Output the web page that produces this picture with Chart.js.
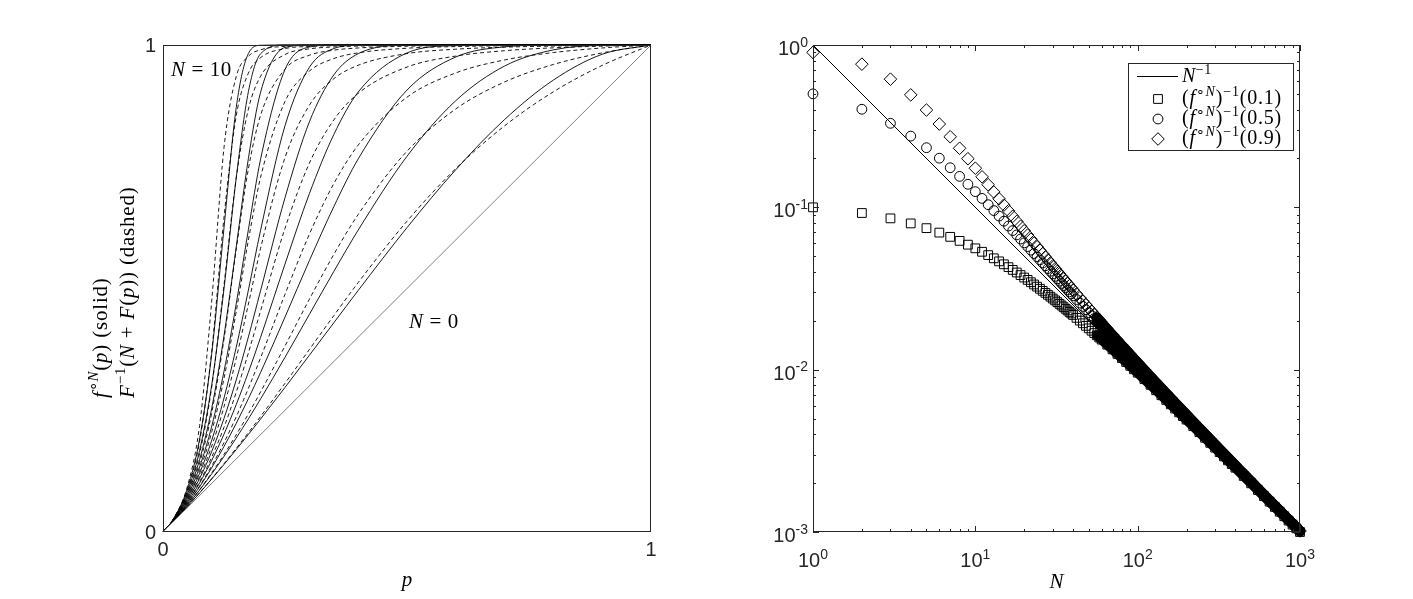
<!DOCTYPE html>
<html>
<head>
<meta charset="utf-8">
<script src="https://cdn.jsdelivr.net/npm/chart.js@4.4.0/dist/chart.umd.min.js"></script>
<style>
  html, body { margin: 0; padding: 0; background: #fff; }
  #wrap { position: relative; width: 1413px; height: 599px; }
  #left { position: absolute; left: 0; top: 0; }
  #right { position: absolute; left: 706px; top: 0; }
</style>
</head>
<body>
<div id="wrap">
  <canvas id="left" width="706" height="599"></canvas>
  <canvas id="right" width="707" height="599"></canvas>
</div>
<script>
// ---- left panel: iterates f^N(p) (solid) and flow approximation (dashed), N = 1..10
const pGrid = [0, 0.02, 0.05, 0.075, 0.1, 0.125, 0.15, 0.175, 0.2, 0.25, 0.3, 0.35, 0.4, 0.5, 0.6, 0.7, 0.8, 0.9, 1];

const solidCurves = [
  [0, 0.0204, 0.0524, 0.0802, 0.109, 0.1387, 0.1691, 0.2003, 0.232, 0.2969, 0.363, 0.4296, 0.496, 0.625, 0.744, 0.847, 0.928, 0.981, 1],
  [0, 0.0208, 0.055, 0.0861, 0.1196, 0.1552, 0.1929, 0.2323, 0.2733, 0.3588, 0.4469, 0.5349, 0.62, 0.7715, 0.8857, 0.9568, 0.99, 0.9993, 1],
  [0, 0.0212, 0.0578, 0.0929, 0.1322, 0.1756, 0.2229, 0.2738, 0.3276, 0.4414, 0.5574, 0.668, 0.7661, 0.9075, 0.9754, 0.9963, 0.9999, 1, 1],
  [0, 0.0217, 0.061, 0.1007, 0.1473, 0.201, 0.2615, 0.3282, 0.3998, 0.5502, 0.6949, 0.8161, 0.9034, 0.9837, 0.9988, 1, 1, 1, 1],
  [0, 0.0221, 0.0645, 0.1099, 0.1658, 0.2333, 0.312, 0.4006, 0.4957, 0.6864, 0.8423, 0.9386, 0.9822, 0.9995, 1, 1, 1, 1, 1],
  [0, 0.0226, 0.0684, 0.1206, 0.1888, 0.275, 0.379, 0.4968, 0.6197, 0.8342, 0.9542, 0.9927, 0.9994, 1, 1, 1, 1, 1, 1],
  [0, 0.0231, 0.0727, 0.1334, 0.2177, 0.3299, 0.4683, 0.621, 0.7657, 0.9496, 0.9959, 0.9999, 1, 1, 1, 1, 1, 1, 1],
  [0, 0.0236, 0.0776, 0.1488, 0.2548, 0.4028, 0.5848, 0.7671, 0.9031, 0.995, 1, 1, 1, 1, 1, 1, 1, 1, 1],
  [0, 0.0242, 0.0832, 0.1676, 0.3032, 0.4997, 0.7268, 0.9042, 0.9821, 1, 1, 1, 1, 1, 1, 1, 1, 1, 1],
  [0, 0.0247, 0.0895, 0.191, 0.3672, 0.6246, 0.8712, 0.9825, 0.9994, 1, 1, 1, 1, 1, 1, 1, 1, 1, 1]
];

const dashedCurves = [
  [0, 0.0204, 0.0525, 0.0806, 0.1098, 0.1402, 0.1717, 0.204, 0.2372, 0.3054, 0.3749, 0.4443, 0.5123, 0.6382, 0.7463, 0.834, 0.9039, 0.9581, 1],
  [0, 0.0208, 0.0552, 0.087, 0.1217, 0.1592, 0.1995, 0.2425, 0.2878, 0.382, 0.4781, 0.5699, 0.6521, 0.7819, 0.8687, 0.9241, 0.96, 0.9838, 1],
  [0, 0.0212, 0.0583, 0.0945, 0.1361, 0.1835, 0.2365, 0.295, 0.3576, 0.488, 0.6116, 0.7153, 0.7944, 0.8928, 0.9427, 0.9693, 0.9845, 0.9939, 1],
  [0, 0.0217, 0.0617, 0.1033, 0.1541, 0.2151, 0.2869, 0.3678, 0.4542, 0.6235, 0.7574, 0.8461, 0.9007, 0.9547, 0.9773, 0.9883, 0.9942, 0.9977, 1],
  [0, 0.0222, 0.0655, 0.1138, 0.1768, 0.2573, 0.3563, 0.468, 0.5825, 0.7688, 0.8764, 0.9307, 0.9584, 0.9824, 0.9914, 0.9956, 0.9978, 0.9992, 1],
  [0, 0.0227, 0.0697, 0.1264, 0.2063, 0.3154, 0.4525, 0.5995, 0.7283, 0.884, 0.9464, 0.9722, 0.9839, 0.9934, 0.9968, 0.9984, 0.9992, 0.9997, 1],
  [0, 0.0232, 0.0745, 0.1419, 0.2455, 0.3963, 0.5804, 0.7457, 0.8558, 0.9504, 0.979, 0.9894, 0.9939, 0.9975, 0.9988, 0.9994, 0.9997, 0.9999, 1],
  [0, 0.0237, 0.08, 0.1614, 0.299, 0.507, 0.7262, 0.8682, 0.9358, 0.9804, 0.9921, 0.996, 0.9978, 0.9991, 0.9996, 0.9998, 0.9999, 1, 1],
  [0, 0.0243, 0.0863, 0.1862, 0.373, 0.6462, 0.8542, 0.9423, 0.974, 0.9927, 0.9971, 0.9985, 0.9992, 0.9997, 0.9998, 0.9999, 1, 1, 1],
  [0, 0.0249, 0.0937, 0.2187, 0.4762, 0.7891, 0.935, 0.9768, 0.9902, 0.9973, 0.9989, 0.9995, 0.9997, 0.9999, 1, 1, 1, 1, 1]
];

// N = 0 curve is the identity
const diagP = [0, 1];
const diagY = [0, 1];

const leftTicks = [0, 1];
const leftTickLabels = ['0', '1'];

// ---- right panel: (f^N)^-1(y) for y = 0.1, 0.5, 0.9 against N (log-log)
const nValues = [1, 2, 3, 4, 5, 6, 7, 8, 9, 10, 11, 12, 13, 14, 15, 16, 17, 18, 19, 20,
  21, 22, 23, 24, 25, 26, 27, 28, 29, 30, 31, 32, 33, 34, 35, 36, 37, 38, 39, 40,
  42, 44, 46, 48, 50, 52, 54, 56, 58, 60, 65, 70, 75, 80, 85, 90, 95, 100,
  110, 120, 130, 140, 150, 160, 170, 180, 190, 200, 220, 240, 260, 280, 300, 320, 340, 360, 380, 400,
  450, 500, 550, 600, 650, 700, 750, 800, 850, 900, 950, 1000];

const inv01 = [0.1, 0.09227, 0.0855, 0.07961, 0.07444, 0.06987, 0.0658, 0.06216, 0.05889, 0.05592,
  0.05323, 0.05078, 0.04853, 0.04647, 0.04457, 0.04281, 0.04118, 0.03967, 0.03826, 0.03694,
  0.03572, 0.03456, 0.03348, 0.03246, 0.0315, 0.03059, 0.02973, 0.02892, 0.02815, 0.02742,
  0.02672, 0.02606, 0.02543, 0.02483, 0.02425, 0.02371, 0.02318, 0.02268, 0.0222, 0.02173,
  0.02086, 0.02006, 0.01931, 0.01862, 0.01797, 0.01737, 0.01681, 0.01628, 0.01578, 0.01531,
  0.01425, 0.01333, 0.01251, 0.01179, 0.01115, 0.01057, 0.01005, 0.009581,
  0.008757, 0.008063, 0.00747, 0.006957, 0.00651, 0.006117, 0.005768, 0.005457, 0.005178, 0.004925,
  0.004487, 0.00412, 0.003809, 0.003541, 0.003309, 0.003104, 0.002924, 0.002763, 0.002619, 0.00249,
  0.002215, 0.001995, 0.001815, 0.001664, 0.001537, 0.001427, 0.001333, 0.00125, 0.001176, 0.001111, 0.001053, 0.001];

const inv05 = [0.5, 0.402, 0.3293, 0.2746, 0.233, 0.2008, 0.1754, 0.1551, 0.1386, 0.1249,
  0.1135, 0.1038, 0.0955, 0.08837, 0.08216, 0.07671, 0.0719, 0.06763, 0.06381, 0.06038,
  0.05728, 0.05447, 0.05191, 0.04957, 0.04742, 0.04545, 0.04362, 0.04194, 0.04037, 0.03891,
  0.03755, 0.03628, 0.0351, 0.03398, 0.03293, 0.03194, 0.03101, 0.03013, 0.0293, 0.02851,
  0.02704, 0.02572, 0.02452, 0.02342, 0.02242, 0.02149, 0.02064, 0.01985, 0.01912, 0.01844,
  0.01693, 0.01565, 0.01454, 0.01358, 0.01274, 0.01199, 0.01133, 0.01074,
  0.009713, 0.008868, 0.008156, 0.00755, 0.007027, 0.006571, 0.006171, 0.005816, 0.0055, 0.005216,
  0.004728, 0.004323, 0.003981, 0.00369, 0.003438, 0.003218, 0.003025, 0.002853, 0.0027, 0.002562,
  0.002272, 0.002041, 0.001853, 0.001696, 0.001564, 0.001451, 0.001353, 0.001268, 0.001192, 0.001125, 0.001066, 0.001012];

const inv09 = [0.9, 0.7618, 0.616, 0.4929, 0.3976, 0.326, 0.2721, 0.2311, 0.1993, 0.1742,
  0.1541, 0.1378, 0.1243, 0.1129, 0.1033, 0.09513, 0.08805, 0.08188, 0.07647, 0.07169,
  0.06744, 0.06364, 0.06023, 0.05714, 0.05434, 0.0518, 0.04947, 0.04733, 0.04536, 0.04355,
  0.04186, 0.0403, 0.03885, 0.0375, 0.03623, 0.03504, 0.03393, 0.03289, 0.0319, 0.03097,
  0.02926, 0.02772, 0.02634, 0.02508, 0.02394, 0.02289, 0.02193, 0.02104, 0.02022, 0.01947,
  0.0178, 0.01639, 0.01518, 0.01414, 0.01323, 0.01243, 0.01171, 0.01108,
  0.009996, 0.009103, 0.008355, 0.00772, 0.007174, 0.0067, 0.006284, 0.005917, 0.00559, 0.005297,
  0.004794, 0.004378, 0.004028, 0.00373, 0.003473, 0.003249, 0.003052, 0.002877, 0.002721, 0.002582,
  0.002288, 0.002054, 0.001863, 0.001705, 0.001571, 0.001457, 0.001359, 0.001272, 0.001196, 0.001129, 0.001069, 0.001015];

// reference line N^-1
const lineN = [1, 1000];
const lineInv = [1, 0.001];

const xTicks = [1, 10, 100, 1000];
const xTickExp = ['0', '1', '2', '3'];
const yTicks = [0.001, 0.01, 0.1, 1];
const yTickExp = ['-3', '-2', '-1', '0'];

const seriesArgs = ['0.1', '0.5', '0.9'];
const markerStyles = ['rect', 'circle', 'rectRot'];
const markerRadius = [6.2, 4.9, 6.3];

// from this N on the markers overlap into one solid band
const bandFrom = 56;

const serif = '"Liberation Serif", "Times New Roman", serif';
const sans = '"Liberation Sans", Arial, sans-serif';
const ink = '#262626';

// draws text made of parts [text, style]; style 'r' roman, 'i' italic, a '^' makes it a superscript
function drawRich(ctx, parts, x, y, size, align, family, spacing) {
  family = family || serif;
  ctx.letterSpacing = (spacing || 0) + 'px';
  const fontOf = s => (s.indexOf('i') >= 0 ? 'italic ' : '') + Math.round(s.indexOf('^') >= 0 ? size * 0.72 : size) + 'px ' + family;
  let w = 0;
  parts.forEach(([t, s]) => { ctx.font = fontOf(s); w += ctx.measureText(t).width; });
  let cx = x;
  if (align === 'center') cx = x - w / 2;
  if (align === 'right') cx = x - w;
  ctx.textAlign = 'left';
  ctx.textBaseline = 'alphabetic';
  parts.forEach(([t, s]) => {
    ctx.font = fontOf(s);
    ctx.fillText(t, cx, s.indexOf('^') >= 0 ? y - size * 0.42 : y);
    cx += ctx.measureText(t).width;
  });
  ctx.letterSpacing = '0px';
}

function drawMarker(ctx, style, cx, cy) {
  ctx.beginPath();
  if (style === 'rect') {
    const h = markerRadius[0] * Math.SQRT1_2;
    ctx.rect(cx - h, cy - h, 2 * h, 2 * h);
  } else if (style === 'circle') {
    ctx.arc(cx, cy, markerRadius[1], 0, Math.PI * 2);
  } else {
    const r = markerRadius[2];
    ctx.moveTo(cx - r, cy);
    ctx.lineTo(cx, cy - r);
    ctx.lineTo(cx + r, cy);
    ctx.lineTo(cx, cy + r);
    ctx.closePath();
  }
  ctx.stroke();
}

// ---------------- left chart ----------------
const leftDecor = {
  id: 'leftDecor',
  afterDraw(chart) {
    const { ctx, chartArea: a, scales } = chart;
    ctx.save();
    ctx.strokeStyle = ink;
    ctx.lineWidth = 1;
    ctx.strokeRect(a.left + 0.5, a.top + 0.5, a.right - a.left - 1, a.bottom - a.top - 1);

    ctx.fillStyle = ink;
    leftTicks.forEach((v, i) => {
      drawRich(ctx, [[leftTickLabels[i], 'r']], a.left - 7, scales.y.getPixelForValue(v) + 7, 20, 'right', sans);
      drawRich(ctx, [[leftTickLabels[i], 'r']], scales.x.getPixelForValue(v), a.bottom + 24, 20, 'center', sans);
    });

    ctx.fillStyle = '#000';
    drawRich(ctx, [['N', 'i'], [' = 10', 'r']], a.left + 8, a.top + 31, 21, 'left', serif, 0.6);
    drawRich(ctx, [['N', 'i'], [' = 0', 'r']], a.left + 246, a.top + 283, 21, 'left', serif, 0.6);

    // x label
    drawRich(ctx, [['p', 'i']], (a.left + a.right) / 2, 586, 21, 'center');

    // two line y label, both lines start at the same height
    const line1 = [['f', 'i'], ['\u2218', 'r^'], ['N', 'i^'], ['(', 'r'], ['p', 'i'], [') (solid)', 'r']];
    const line2 = [['F', 'i'], ['\u22121', 'r^'], ['(', 'r'], ['N', 'i'], [' + ', 'r'], ['F', 'i'], ['(', 'r'], ['p', 'i'], [')) (dashed)', 'r']];
    [[line1, a.left - 56], [line2, a.left - 29]].forEach(([parts, bx]) => {
      ctx.save();
      ctx.translate(bx, a.top + 353);
      ctx.rotate(-Math.PI / 2);
      drawRich(ctx, parts, 0, 0, 21, 'left', serif, 0.8);
      ctx.restore();
    });
    ctx.restore();
  }
};

const curvePoints = vals => pGrid.map((p, i) => ({ x: p, y: vals[i] }));

const leftDatasets = [{
  data: diagP.map((p, i) => ({ x: p, y: diagY[i] })),
  borderColor: '#808080',
  borderWidth: 1
}];
solidCurves.forEach(vals => leftDatasets.push({
  data: curvePoints(vals),
  borderColor: '#000',
  borderWidth: 0.9,
  cubicInterpolationMode: 'monotone'
}));
dashedCurves.forEach(vals => leftDatasets.push({
  data: curvePoints(vals),
  borderColor: '#000',
  borderWidth: 0.9,
  borderDash: [4, 3],
  cubicInterpolationMode: 'monotone'
}));

new Chart(document.getElementById('left'), {
  type: 'line',
  data: { datasets: leftDatasets },
  options: {
    responsive: false,
    animation: false,
    devicePixelRatio: 1,
    events: [],
    clip: false,
    layout: { padding: { left: 163, right: 55, top: 45, bottom: 67 } },
    elements: { point: { radius: 0 }, line: { fill: false } },
    scales: {
      x: { type: 'linear', min: 0, max: 1, display: false },
      y: { type: 'linear', min: 0, max: 1, display: false }
    },
    plugins: { legend: { display: false }, tooltip: { enabled: false } }
  },
  plugins: [leftDecor]
});

// ---------------- right chart ----------------
const rightDecor = {
  id: 'rightDecor',
  afterDraw(chart) {
    const { ctx, chartArea: a, scales: { x, y } } = chart;
    ctx.save();
    ctx.strokeStyle = ink;
    ctx.lineWidth = 1;
    ctx.strokeRect(a.left + 0.5, a.top + 0.5, a.right - a.left - 1, a.bottom - a.top - 1);

    // inward ticks on all four sides, minor ticks at 2..9 of each decade
    ctx.beginPath();
    xTicks.forEach(v => {
      for (let k = 1; k < 10; k++) {
        if (v * k > xTicks[xTicks.length - 1]) break;
        const px = Math.round(x.getPixelForValue(v * k)) + 0.5;
        const len = k === 1 ? 6 : 3;
        ctx.moveTo(px, a.bottom); ctx.lineTo(px, a.bottom - len);
        ctx.moveTo(px, a.top); ctx.lineTo(px, a.top + len);
      }
    });
    yTicks.forEach(v => {
      for (let k = 1; k < 10; k++) {
        if (v * k > yTicks[yTicks.length - 1] + 1e-9) break;
        const py = Math.round(y.getPixelForValue(v * k)) + 0.5;
        const len = k === 1 ? 6 : 3;
        ctx.moveTo(a.left, py); ctx.lineTo(a.left + len, py);
        ctx.moveTo(a.right, py); ctx.lineTo(a.right - len, py);
      }
    });
    ctx.stroke();

    ctx.fillStyle = ink;
    xTicks.forEach((v, i) => drawRich(ctx, [['10', 'r'], [xTickExp[i], 'r^']], x.getPixelForValue(v), a.bottom + 35, 20, 'center', sans));
    yTicks.forEach((v, i) => drawRich(ctx, [['10', 'r'], [yTickExp[i], 'r^']], a.left - 5, y.getPixelForValue(v) + 10, 20, 'right', sans));

    ctx.fillStyle = '#000';
    drawRich(ctx, [['N', 'i']], (a.left + a.right) / 2, 588, 21, 'center');

    // legend
    const lx = a.right - 172, ly = a.top + 18, lw = 165, lh = 87;
    ctx.fillStyle = '#fff';
    ctx.fillRect(lx, ly, lw, lh);
    ctx.strokeStyle = ink;
    ctx.strokeRect(lx + 0.5, ly + 0.5, lw, lh);
    ctx.strokeStyle = '#000';
    ctx.beginPath();
    ctx.moveTo(lx + 9, ly + 13.5);
    ctx.lineTo(lx + 50, ly + 13.5);
    ctx.stroke();
    ctx.fillStyle = '#000';
    drawRich(ctx, [['N', 'i'], ['\u22121', 'r^']], lx + 54, ly + 19, 20, 'left', serif, 0.5);
    seriesArgs.forEach((arg, i) => {
      const cy = ly + 36 + i * 20;
      drawMarker(ctx, markerStyles[i], lx + 30, cy);
      drawRich(ctx, [['(', 'r'], ['f', 'i'], ['\u2218', 'r^'], ['N', 'i^'], [')', 'r'], ['\u22121', 'r^'], ['(' + arg + ')', 'r']],
        lx + 54, cy + 5, 20, 'left', serif, 0.8);
    });
    ctx.restore();
  }
};

const seriesPoints = vals => nValues.map((n, i) => ({ x: n, y: vals[i] }));
const bandPoints = vals => seriesPoints(vals).filter(pt => pt.x >= bandFrom);

const rightDatasets = [{
  data: lineN.map((n, i) => ({ x: n, y: lineInv[i] })),
  showLine: true,
  borderColor: '#000',
  borderWidth: 1,
  pointRadius: 0
}];
[inv01, inv05, inv09].forEach((vals, i) => {
  rightDatasets.push({
    data: seriesPoints(vals),
    showLine: false,
    pointStyle: markerStyles[i],
    pointRadius: markerRadius[i],
    pointBorderColor: '#000',
    pointBorderWidth: 1,
    pointBackgroundColor: 'rgba(0,0,0,0)'
  });
  rightDatasets.push({
    data: bandPoints(vals),
    showLine: true,
    borderColor: '#000',
    borderWidth: 10,
    borderCapStyle: 'round',
    pointRadius: 0
  });
});

new Chart(document.getElementById('right'), {
  type: 'scatter',
  data: { datasets: rightDatasets },
  options: {
    responsive: false,
    animation: false,
    devicePixelRatio: 1,
    events: [],
    clip: false,
    layout: { padding: { left: 107, right: 113, top: 45, bottom: 67 } },
    scales: {
      x: { type: 'logarithmic', min: 1, max: 1000, display: false },
      y: { type: 'logarithmic', min: 0.001, max: 1, display: false }
    },
    plugins: { legend: { display: false }, tooltip: { enabled: false } }
  },
  plugins: [rightDecor]
});
</script>
</body>
</html>
